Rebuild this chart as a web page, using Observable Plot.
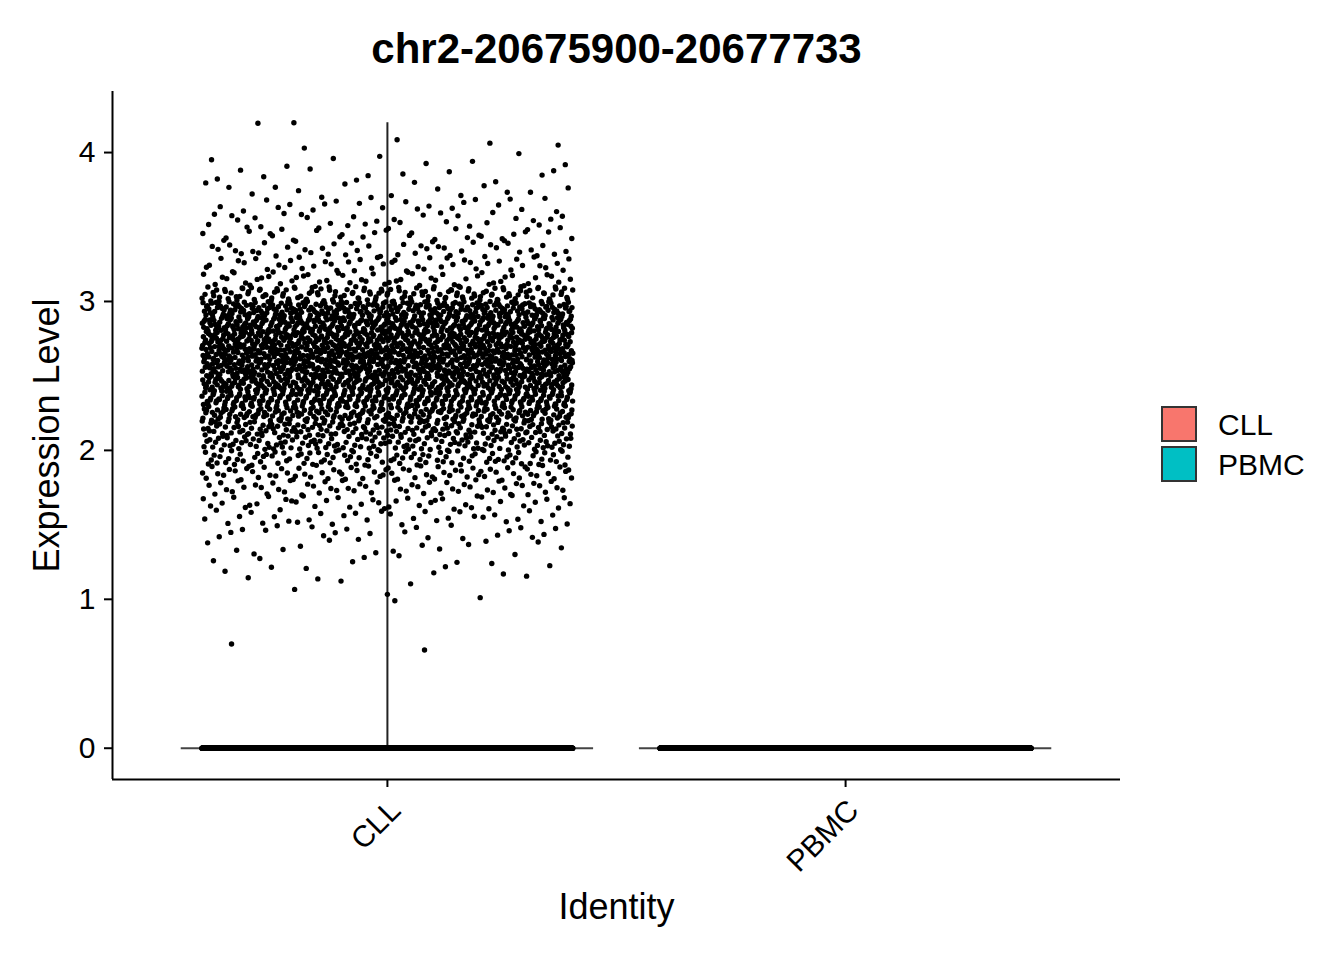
<!DOCTYPE html>
<html>
<head>
<meta charset="utf-8">
<script src="https://cdn.jsdelivr.net/npm/d3@7"></script>
<script src="https://cdn.jsdelivr.net/npm/@observablehq/plot@0.6"></script>
<style>
  html, body { margin: 0; padding: 0; background: white; }
  #wrap { position: relative; width: 1344px; height: 960px; font-family: "Liberation Sans", Arial, Helvetica, sans-serif; }
  .key { position: absolute; left: 1161px; width: 32px; height: 32px; border: 2.5px solid #333; }
  .lab { position: absolute; left: 1218px; font-size: 30px; line-height: 37px; color: black; }
</style>
</head>
<body>
<div id="wrap"></div>
<script>
// ---- data ----
const groups = ["CLL", "PBMC"];
const groupColors = ["#F8766D", "#00BFC4"];
const title = "chr2-20675900-20677733";
const yTicks = [0, 1, 2, 3, 4];
// CLL non-zero cells: counts per 0.1 bin of expression, starting at 1.0
const cllBinStart = 1.0;
const cllBinWidth = 0.1;
const cllBinCounts = [3, 8, 11, 15, 22, 32, 42, 55, 75, 100, 135, 175, 225, 265, 295, 315, 325, 325, 315, 280, 150, 52, 46, 40, 34, 28, 22, 15, 11, 8, 3, 1];
// isolated low / high cells read individually
const cllOutliers = [0.66, 0.70, 0.99, 4.05, 4.20];
// cells with zero expression per group
const zeroCounts = [2500, 5000];
// ---- geometry params ----
const jitterHalf = 0.405;
const violinHalf = 0.45;

// Halton low-discrepancy placement (deterministic jitter and in-bin position)
function halton(i, b) { let f = 1, r = 0; while (i > 0) { f /= b; r += f * (i % b); i = Math.floor(i / b); } return r; }
const pts = [];
let k = 1;
cllBinCounts.forEach((n, i) => {
  for (let j = 0; j < n; j++, k++) {
    pts.push({group: 1, dx: (halton(k, 2) * 2 - 1) * jitterHalf, y: cllBinStart + (i + halton(k, 3)) * cllBinWidth});
  }
});
cllOutliers.forEach((y, j) => {
  pts.push({group: 1, dx: (halton(j * 7 + 3, 5) * 2 - 1) * jitterHalf, y});
});
zeroCounts.forEach((n, gi) => {
  for (let j = 0; j < n; j++) pts.push({group: gi + 1, dx: (halton(j + 1, 2) * 2 - 1) * jitterHalf, y: 0});
});

const groupMax = groups.map((_, gi) => d3.max(pts.filter(p => p.group === gi + 1), p => p.y));
const violinH = groups.map((_, gi) => ({g: gi + 1, x1: gi + 1 - violinHalf, x2: gi + 1 + violinHalf, y: 0}));
const violinV = groups.map((_, gi) => ({g: gi + 1, y1: 0, y2: groupMax[gi]}));

const font = "Liberation Sans, Arial, Helvetica, sans-serif";
const chart = Plot.plot({
  width: 1344, height: 960,
  marginLeft: 112, marginRight: 224, marginTop: 91, marginBottom: 181,
  style: {fontFamily: font, fontSize: "30px", color: "black", background: "white", overflow: "visible"},
  x: {domain: [0.4, 2.6]},
  y: {domain: [-0.21, 4.41]},
  marks: [
    // violins
    Plot.ruleX(violinV, {x: "g", y1: "y1", y2: "y2", stroke: "#222", strokeWidth: 2}),
    Plot.ruleY(violinH, {y: "y", x1: "x1", x2: "x2", stroke: "#444", strokeWidth: 1.8}),
    // jittered cells
    Plot.dot(pts, {x: d => d.group + d.dx, y: "y", r: 2.7, fill: "black", stroke: "none"}),
    // axes
    Plot.axisY({ticks: yTicks, tickSize: 8, tickPadding: 9, strokeWidth: 2, fontSize: 30, label: null, tickFormat: d => d}),
    Plot.axisX({ticks: [1, 2], tickFormat: () => "", tickSize: 8, strokeWidth: 2, label: null}),
    Plot.axisX({ticks: [1, 2], tickFormat: d => groups[d - 1], tickRotate: -45, tickSize: 0, tickPadding: 26, dx: 8, fontSize: 30, label: null}),
    Plot.ruleX([0.4], {stroke: "black", strokeWidth: 2}),
    Plot.ruleY([-0.21], {stroke: "black", strokeWidth: 2}),
    // titles
    Plot.text([title], {frameAnchor: "top", dy: -42, text: d => d, fontSize: 42, fontWeight: "bold", lineAnchor: "middle"}),
    Plot.text(["Identity"], {frameAnchor: "bottom", dy: 128, text: d => d, fontSize: 36, lineAnchor: "middle"}),
    Plot.text(["Expression Level"], {frameAnchor: "left", dx: -65, rotate: -90, textAnchor: "middle", text: d => d, fontSize: 36, lineAnchor: "middle"})
  ]
});
const wrap = document.getElementById("wrap");
wrap.appendChild(chart);
groups.forEach((name, i) => {
  const kd = document.createElement("div");
  kd.className = "key";
  kd.style.top = (406 + i * 40) + "px";
  kd.style.background = groupColors[i];
  wrap.appendChild(kd);
  const l = document.createElement("div");
  l.className = "lab";
  l.style.top = (406 + i * 40) + "px";
  l.textContent = name;
  wrap.appendChild(l);
});
</script>
</body>
</html>
